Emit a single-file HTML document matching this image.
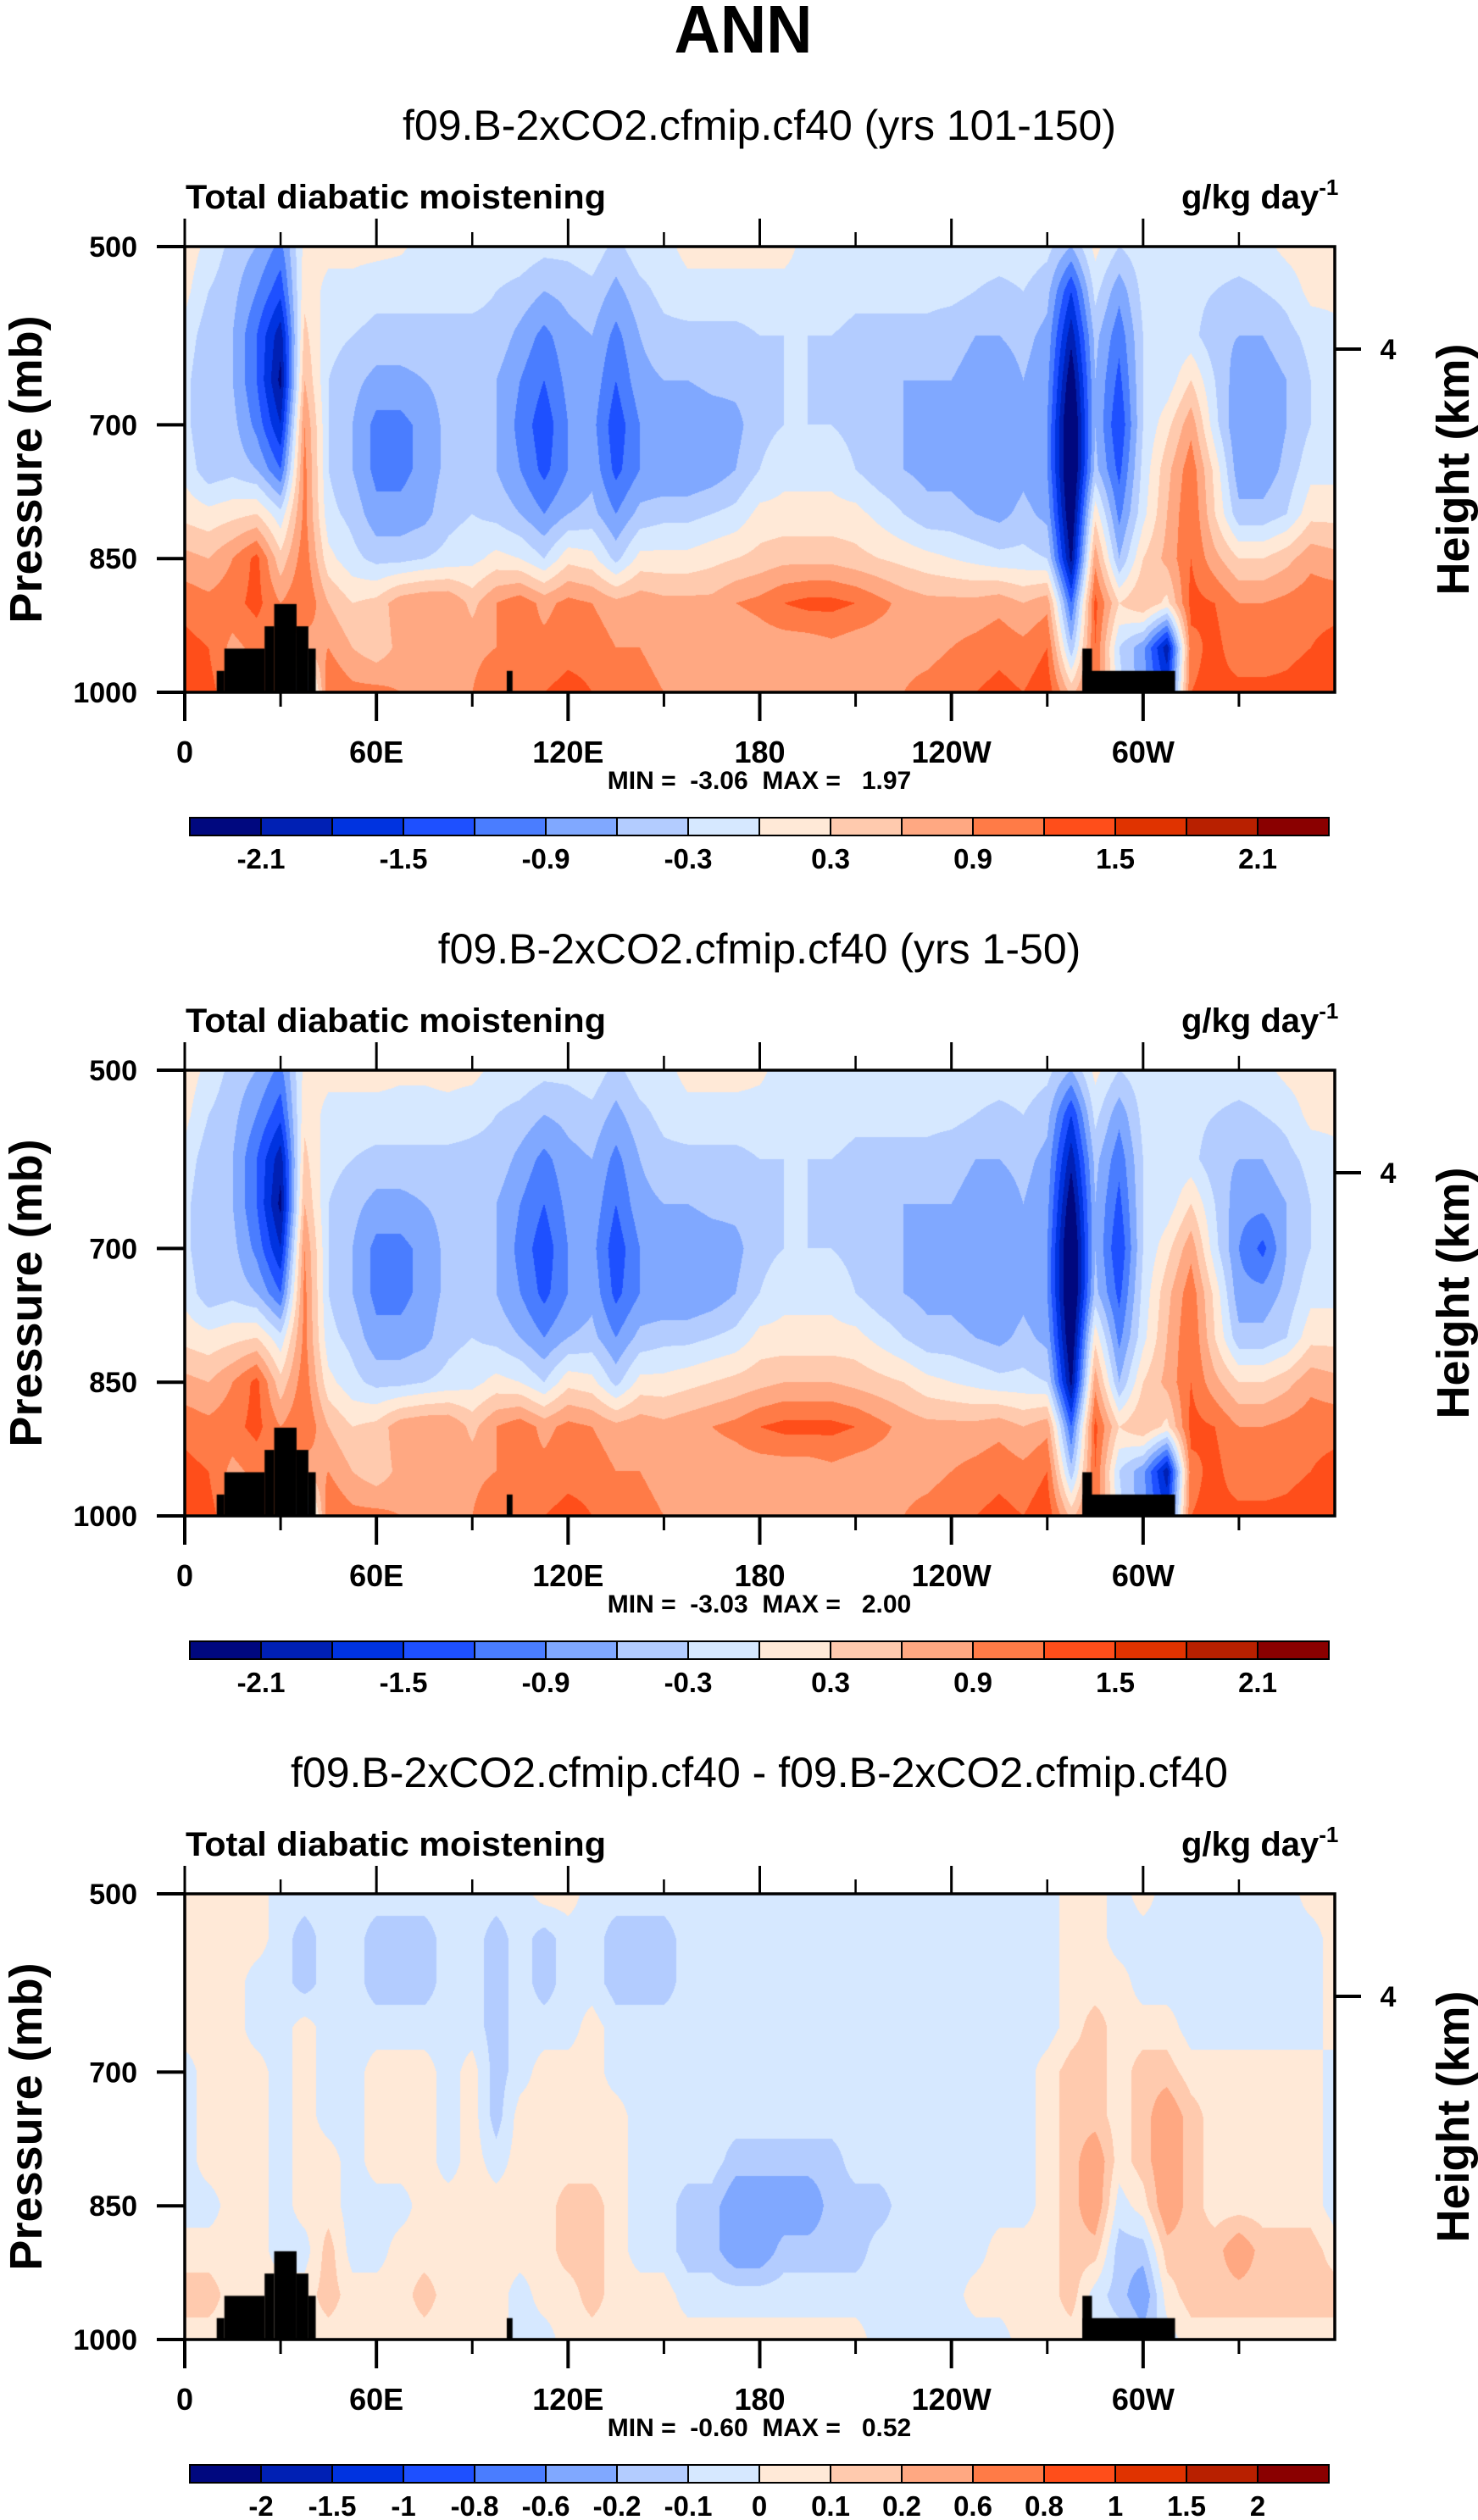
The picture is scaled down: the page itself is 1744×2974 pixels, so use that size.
<!DOCTYPE html>
<html><head><meta charset="utf-8"><title>ANN Total diabatic moistening</title>
<style>
html,body{margin:0;padding:0;background:#fff;}
#wrap{position:relative;width:1744px;height:2974px;overflow:hidden;}
canvas{position:absolute;left:218px;}
svg{position:absolute;left:0;top:0;}
text{font-family:"Liberation Sans",sans-serif;fill:#000;}
</style></head><body>
<div id="wrap">
<canvas id="c1" width="1357" height="526" style="top:291px"></canvas>
<canvas id="c2" width="1357" height="526" style="top:1263px"></canvas>
<canvas id="c3" width="1357" height="526" style="top:2235px"></canvas>
<svg id="svg" width="1744" height="2974" xmlns="http://www.w3.org/2000/svg">
<text x="877" y="62" font-size="80" font-weight="bold" text-anchor="middle" textLength="163" lengthAdjust="spacingAndGlyphs">ANN</text>
</svg>
</div>
<script>
// ---------- data ----------
const pressureLevels=[500,550,600,650,700,750,800,850,900,950,1000];
const lonStep=7.5;
const levelsA=[-2.1,-1.8,-1.5,-1.2,-0.9,-0.6,-0.3,0,0.3,0.6,0.9,1.2,1.5,1.8,2.1];
const labelsA=["-2.1","","-1.5","","-0.9","","-0.3","","0.3","","0.9","","1.5","","2.1"];
const levelsD=[-2,-1.5,-1,-0.8,-0.6,-0.2,-0.1,0,0.1,0.2,0.6,0.8,1,1.5,2];
const labelsD=["-2","-1.5","-1","-0.8","-0.6","-0.2","-0.1","0","0.1","0.2","0.6","0.8","1","1.5","2"];
const palette=["#00087f","#0020b4","#0033e0","#1e50ff","#4a7dff","#80a8ff","#b3ccff","#d6e8ff","#ffe9d7","#ffcaae","#ffa882","#ff7b47","#ff4e1a","#e03300","#b82000","#8a0000"];
const lonTicks=[0,60,120,180,240,300];
const lonTickLabels=["0","60E","120E","180","120W","60W"];
const lonMinorTicks=[30,90,150,210,270,330];
const pTicks=[500,700,850,1000];
const heightTicks=[{p:615,label:"4"}];
const topoLon0=[10,12.4,25,28,35,38.7,100.8,281,281];
const topoLon1=[12.4,25,28,35,38.7,41,102.6,284,310];
const topoP=[976,951,926,901,926,951,976,951,976];
const subtitles=["f09.B-2xCO2.cfmip.cf40 (yrs 101-150)","f09.B-2xCO2.cfmip.cf40 (yrs 1-50)","f09.B-2xCO2.cfmip.cf40 - f09.B-2xCO2.cfmip.cf40"];
const minVals=["-3.06","-3.03","-0.60"];
const maxVals=["1.97","2.00","0.52"];

const field1=[
[0.2,-0.1,-0.4,-0.6,-1.0,0.1,0.1,0.1,0.1,0.05,-0.1,-0.1,-0.1,-0.1,-0.1,-0.2,-0.2,-0.1,-0.4,-0.1,-0.1,0.1,0.1,0.1,0.1,0.1,-0.1,-0.1,-0.1,-0.1,-0.1,-0.1,-0.1,-0.1,-0.1,-0.1,-0.2,-0.6,0.1,-0.3,-0.1,-0.1,-0.1,-0.1,-0.1,-0.1,0.1,0.2],
[0.1,-0.3,-0.5,-0.9,-1.4,0.2,-0.1,-0.1,-0.2,-0.2,-0.2,-0.2,-0.2,-0.3,-0.4,-0.6,-0.5,-0.4,-0.7,-0.4,-0.2,-0.1,-0.1,-0.1,-0.1,-0.1,-0.1,-0.1,-0.2,-0.2,-0.2,-0.2,-0.2,-0.3,-0.4,-0.3,-0.5,-1.5,-0.2,-0.8,-0.2,-0.2,-0.2,-0.3,-0.4,-0.3,-0.2,0.1],
[-0.1,-0.5,-0.6,-1.2,-2.0,0.4,-0.2,-0.3,-0.4,-0.4,-0.4,-0.4,-0.4,-0.4,-0.7,-1.0,-0.7,-0.6,-1.0,-0.6,-0.4,-0.4,-0.4,-0.4,-0.3,-0.3,-0.3,-0.3,-0.4,-0.4,-0.4,-0.4,-0.5,-0.6,-0.6,-0.5,-0.7,-2.0,-0.5,-1.1,-0.3,-0.3,-0.2,-0.5,-0.6,-0.6,-0.4,-0.2],
[-0.2,-0.6,-0.6,-1.2,-2.2,0.6,-0.3,-0.5,-0.7,-0.7,-0.6,-0.5,-0.4,-0.6,-0.9,-1.2,-0.8,-0.7,-1.2,-0.7,-0.6,-0.6,-0.5,-0.5,-0.4,-0.3,-0.3,-0.4,-0.5,-0.5,-0.6,-0.6,-0.6,-0.7,-0.8,-0.6,-0.8,-2.4,-0.6,-1.3,-0.3,-0.2,0.3,-0.3,-0.8,-0.8,-0.6,-0.3],
[-0.2,-0.6,-0.5,-1.0,-1.8,0.9,-0.3,-0.6,-1.0,-1.0,-0.8,-0.5,-0.4,-0.6,-1.0,-1.4,-0.9,-0.8,-1.4,-0.9,-0.9,-0.9,-0.8,-0.7,-0.4,-0.3,-0.3,-0.3,-0.4,-0.6,-0.6,-0.7,-0.7,-0.8,-0.9,-0.7,-0.9,-2.7,-0.6,-1.5,-0.3,0.2,0.8,-0.2,-0.9,-0.9,-0.6,-0.3],
[-0.1,-0.5,-0.4,-0.6,-1.2,1.0,-0.3,-0.6,-1.0,-1.0,-0.8,-0.5,-0.4,-0.6,-0.9,-1.3,-0.9,-0.7,-1.3,-0.9,-0.9,-0.9,-0.8,-0.6,-0.3,-0.1,-0.1,-0.1,-0.3,-0.5,-0.6,-0.7,-0.7,-0.8,-0.9,-0.7,-0.9,-2.7,-0.5,-1.3,-0.2,0.5,1.1,0.2,-0.8,-0.8,-0.5,-0.1],
[0.2,0.1,0.2,0.3,-0.2,1.0,-0.2,-0.4,-0.8,-0.8,-0.7,-0.4,-0.3,-0.4,-0.6,-0.9,-0.6,-0.5,-0.9,-0.5,-0.4,-0.4,-0.3,-0.2,0.1,0.1,0.1,0.1,0.1,-0.1,-0.3,-0.5,-0.5,-0.6,-0.7,-0.5,-0.7,-2.5,0.2,-1.0,-0.1,0.6,1.2,0.3,-0.5,-0.5,-0.3,0.2],
[0.7,0.6,0.9,1.3,0.4,1.1,0.1,-0.2,-0.4,-0.4,-0.3,-0.2,-0.1,0.1,0.0,-0.3,0.2,0.1,-0.4,0.1,0.1,0.1,0.2,0.3,0.4,0.5,0.5,0.5,0.4,0.3,0.2,0.1,0.0,-0.1,-0.2,-0.2,-0.3,-2.2,0.8,-0.6,0.3,0.7,1.2,0.7,0.3,0.3,0.5,0.8],
[1.1,1.0,1.1,1.3,0.9,1.2,0.6,0.3,0.4,0.8,0.9,0.9,0.5,0.9,1.1,0.8,1.0,0.9,0.7,0.8,0.7,0.7,0.7,0.9,1.0,1.2,1.3,1.3,1.2,1.0,0.8,0.7,0.7,0.7,0.8,0.6,0.8,-1.2,1.3,0.3,0.6,0.2,1.3,1.2,0.9,0.9,1.0,1.1],
[1.3,1.2,0.8,1.0,1.0,0.7,0.9,0.6,0.4,0.7,0.8,0.8,0.8,0.9,1.0,1.0,1.1,1.1,0.9,0.9,0.8,0.7,0.6,0.6,0.7,0.7,0.7,0.8,0.7,0.7,0.8,0.8,0.9,1.0,1.1,1.0,1.2,-0.5,1.2,-0.3,-0.8,-2.0,1.1,1.3,1.0,1.0,1.1,1.2],
[1.4,1.3,1.0,1.0,1.0,-1.0,1.2,1.0,1.0,0.9,0.9,0.9,0.9,1.2,1.2,1.2,1.3,1.2,1.1,1.0,0.9,0.9,0.8,0.8,0.7,0.7,0.7,0.7,0.7,0.8,0.9,1.0,1.1,1.2,1.3,1.2,1.4,0.5,1.2,-0.2,-0.8,-1.5,1.2,1.3,1.3,1.3,1.3,1.4]
];
const field2=[
[0.2,-0.1,-0.4,-0.6,-1.0,0.1,0.1,0.1,0.1,0.05,0.05,0.1,0.1,-0.1,-0.1,-0.2,-0.2,-0.1,-0.4,-0.1,-0.1,0.1,0.1,0.1,0.05,-0.1,-0.1,-0.1,-0.1,-0.1,-0.1,-0.1,-0.1,-0.1,-0.1,-0.1,-0.2,-0.6,0.1,-0.3,-0.1,-0.1,-0.1,-0.1,-0.1,-0.1,0.1,0.2],
[0.1,-0.3,-0.5,-0.9,-1.4,0.2,-0.1,-0.1,-0.1,-0.1,-0.1,-0.1,-0.2,-0.3,-0.4,-0.6,-0.5,-0.4,-0.7,-0.4,-0.2,-0.1,-0.1,-0.1,-0.1,-0.1,-0.1,-0.1,-0.2,-0.2,-0.2,-0.2,-0.2,-0.3,-0.4,-0.3,-0.5,-1.5,-0.2,-0.8,-0.2,-0.2,-0.2,-0.3,-0.4,-0.3,-0.2,0.1],
[-0.1,-0.5,-0.6,-1.2,-2.0,0.4,-0.2,-0.3,-0.4,-0.4,-0.4,-0.4,-0.4,-0.4,-0.7,-1.0,-0.7,-0.6,-1.0,-0.6,-0.4,-0.4,-0.4,-0.4,-0.3,-0.3,-0.3,-0.3,-0.4,-0.4,-0.4,-0.4,-0.5,-0.6,-0.6,-0.5,-0.7,-2.0,-0.5,-1.1,-0.3,-0.3,-0.2,-0.5,-0.6,-0.6,-0.4,-0.2],
[-0.2,-0.6,-0.6,-1.2,-2.2,0.6,-0.3,-0.5,-0.7,-0.7,-0.6,-0.5,-0.4,-0.6,-0.9,-1.2,-0.8,-0.7,-1.2,-0.7,-0.6,-0.6,-0.5,-0.5,-0.4,-0.3,-0.3,-0.4,-0.5,-0.5,-0.6,-0.6,-0.6,-0.7,-0.8,-0.6,-0.8,-2.4,-0.6,-1.3,-0.3,-0.2,0.3,-0.3,-0.8,-0.8,-0.6,-0.3],
[-0.2,-0.6,-0.5,-1.0,-1.8,0.9,-0.3,-0.6,-1.0,-1.0,-0.8,-0.5,-0.4,-0.6,-1.0,-1.4,-0.9,-0.8,-1.4,-0.9,-0.9,-0.9,-0.8,-0.7,-0.4,-0.3,-0.3,-0.3,-0.4,-0.6,-0.6,-0.7,-0.7,-0.8,-0.9,-0.7,-0.9,-2.7,-0.6,-1.5,-0.3,0.2,0.8,-0.2,-0.9,-1.3,-0.6,-0.3],
[-0.1,-0.5,-0.4,-0.6,-1.2,1.0,-0.3,-0.6,-1.0,-1.0,-0.8,-0.5,-0.4,-0.6,-0.9,-1.3,-0.9,-0.7,-1.3,-0.9,-0.9,-0.9,-0.8,-0.6,-0.3,-0.1,-0.1,-0.1,-0.3,-0.5,-0.6,-0.7,-0.7,-0.8,-0.9,-0.7,-0.9,-2.7,-0.5,-1.3,-0.2,0.5,1.1,0.2,-0.8,-0.8,-0.5,-0.1],
[0.2,0.1,0.2,0.3,-0.2,1.0,-0.2,-0.4,-0.8,-0.8,-0.7,-0.4,-0.3,-0.4,-0.6,-0.9,-0.6,-0.5,-0.9,-0.5,-0.4,-0.4,-0.3,-0.2,0.1,0.1,0.1,0.1,0.1,-0.1,-0.3,-0.5,-0.5,-0.6,-0.7,-0.5,-0.7,-2.5,0.2,-1.0,-0.1,0.6,1.2,0.3,-0.5,-0.5,-0.3,0.2],
[0.7,0.6,0.9,1.3,0.4,1.1,0.1,-0.2,-0.4,-0.4,-0.3,-0.2,-0.1,0.1,0.0,-0.3,0.2,0.1,-0.4,0.1,0.1,0.2,0.3,0.4,0.5,0.6,0.6,0.6,0.5,0.4,0.3,0.1,0.0,-0.1,-0.2,-0.2,-0.3,-2.2,0.8,-0.6,0.3,0.7,1.2,0.7,0.3,0.3,0.5,0.8],
[1.1,1.0,1.1,1.3,0.9,1.2,0.6,0.3,0.4,0.8,0.9,0.9,0.5,0.9,1.1,0.8,1.0,0.9,0.7,0.8,0.7,0.8,0.9,1.0,1.2,1.3,1.3,1.3,1.2,1.0,0.8,0.7,0.7,0.7,0.8,0.6,0.8,-1.2,1.3,0.3,0.6,0.2,1.3,1.2,0.9,0.9,1.0,1.1],
[1.3,1.2,0.8,1.0,1.0,0.7,0.9,0.6,0.4,0.7,0.8,0.8,0.8,0.9,1.0,1.0,1.1,1.1,0.9,0.9,0.8,0.7,0.7,0.7,0.7,0.7,0.7,0.8,0.7,0.7,0.8,0.8,0.9,1.0,1.1,1.0,1.2,-0.5,1.2,-0.3,-0.8,-2.0,1.1,1.3,1.0,1.0,1.1,1.2],
[1.4,1.3,1.0,1.0,1.0,-1.0,1.2,1.0,1.0,0.9,0.9,0.9,0.9,1.2,1.2,1.2,1.3,1.2,1.1,1.0,0.9,0.9,0.8,0.8,0.7,0.7,0.7,0.7,0.7,0.8,0.9,1.0,1.1,1.2,1.3,1.2,1.4,0.5,1.2,-0.2,-0.8,-1.5,1.2,1.3,1.3,1.3,1.3,1.4]
];
const field3=[
[0.05,0.05,0.05,0.05,-0.05,-0.05,-0.05,-0.05,-0.05,-0.05,-0.05,-0.05,-0.05,-0.05,-0.05,0.05,0.05,-0.05,-0.05,-0.05,-0.05,-0.05,-0.05,-0.05,-0.05,-0.05,-0.05,-0.05,-0.05,-0.05,-0.05,-0.05,-0.05,-0.05,-0.05,-0.05,-0.05,0.05,0.05,-0.05,0.05,-0.05,-0.05,-0.05,-0.05,-0.05,-0.05,0.05],
[0.05,0.05,0.05,0.05,-0.05,-0.15,-0.05,-0.05,-0.15,-0.15,-0.15,-0.05,-0.05,-0.15,-0.05,-0.15,-0.05,-0.05,-0.15,-0.15,-0.15,-0.05,-0.05,-0.05,-0.05,-0.05,-0.05,-0.05,-0.05,-0.05,-0.05,-0.05,-0.05,-0.05,-0.05,-0.05,-0.05,0.05,0.05,-0.05,-0.05,-0.05,-0.05,-0.05,-0.05,-0.05,-0.05,-0.05],
[0.05,0.05,0.05,-0.05,-0.05,-0.15,-0.05,-0.05,-0.15,-0.15,-0.15,-0.05,-0.05,-0.15,-0.05,-0.15,-0.05,-0.05,-0.15,-0.15,-0.15,-0.05,-0.05,-0.05,-0.05,-0.05,-0.05,-0.05,-0.05,-0.05,-0.05,-0.05,-0.05,-0.05,-0.05,-0.05,-0.05,0.05,0.05,0.05,-0.05,-0.05,-0.05,-0.05,-0.05,-0.05,-0.05,-0.05],
[0.05,0.05,0.05,-0.05,-0.05,0.05,-0.05,-0.05,-0.05,-0.05,-0.05,-0.05,-0.05,-0.15,-0.05,-0.05,-0.05,0.05,-0.05,-0.05,-0.05,-0.05,-0.05,-0.05,-0.05,-0.05,-0.05,-0.05,-0.05,-0.05,-0.05,-0.05,-0.05,-0.05,-0.05,-0.05,-0.05,0.05,0.15,0.05,0.05,0.05,-0.05,-0.05,-0.05,-0.05,-0.05,-0.05],
[-0.05,0.05,0.05,0.05,-0.05,0.05,-0.05,-0.05,0.05,0.05,0.05,-0.05,0.05,-0.15,-0.05,0.05,0.05,0.05,-0.05,-0.05,-0.05,-0.05,-0.05,-0.05,-0.05,-0.05,-0.05,-0.05,-0.05,-0.05,-0.05,-0.05,-0.05,-0.05,-0.05,-0.05,0.05,0.15,0.15,0.05,0.15,0.15,0.05,0.05,0.05,0.05,0.05,0.05],
[-0.05,0.05,0.05,0.05,-0.05,0.05,-0.05,-0.05,0.05,0.05,0.05,-0.05,0.05,-0.15,0.05,0.05,0.05,0.05,0.05,-0.05,-0.05,-0.05,-0.05,-0.05,-0.05,-0.05,-0.05,-0.05,-0.05,-0.05,-0.05,-0.05,-0.05,-0.05,-0.05,-0.05,0.05,0.15,0.15,0.05,0.15,0.3,0.15,0.05,0.05,0.05,0.05,0.05],
[-0.05,0.05,0.05,0.05,-0.05,0.05,0.05,-0.05,0.05,0.05,0.05,-0.05,0.05,-0.05,0.05,0.05,0.05,0.05,0.05,-0.05,-0.05,-0.05,-0.05,-0.15,-0.15,-0.15,-0.15,-0.15,-0.05,-0.05,-0.05,-0.05,-0.05,-0.05,-0.05,-0.05,0.05,0.15,0.3,0.05,0.15,0.3,0.15,0.05,0.05,0.05,0.05,0.05],
[-0.05,-0.05,0.05,0.05,-0.05,0.05,0.05,-0.05,-0.05,-0.05,0.05,0.05,0.05,0.05,0.05,0.05,0.15,0.15,0.05,-0.05,-0.05,-0.15,-0.15,-0.3,-0.3,-0.3,-0.3,-0.15,-0.15,-0.15,-0.05,-0.05,-0.05,-0.05,-0.05,-0.05,0.05,0.15,0.3,-0.05,0.05,0.3,0.15,0.05,0.05,0.05,0.05,0.05],
[0.05,0.05,0.05,0.05,-0.05,-0.05,0.15,-0.05,-0.05,0.05,0.05,0.05,0.05,0.05,0.05,0.05,0.15,0.15,0.05,-0.05,-0.05,-0.15,-0.15,-0.3,-0.3,-0.15,-0.15,-0.15,-0.15,-0.05,-0.05,-0.05,-0.05,-0.05,0.05,0.05,0.05,0.15,0.15,-0.15,-0.15,0.15,0.15,0.15,0.3,0.15,0.15,0.15],
[0.15,0.15,0.05,0.05,0.05,0.05,0.15,0.05,0.05,0.05,0.15,0.05,0.05,0.05,-0.05,0.05,0.05,0.15,0.05,0.05,0.05,-0.05,-0.05,-0.05,-0.05,-0.05,-0.05,-0.05,-0.05,-0.05,-0.05,-0.05,-0.05,0.05,0.05,0.05,0.05,0.15,-0.05,-0.15,-0.3,0.05,0.15,0.15,0.15,0.15,0.15,0.15],
[0.05,0.05,0.05,0.05,0.05,0.05,0.05,0.05,0.05,0.05,0.05,0.05,0.05,0.05,-0.05,-0.05,0.05,0.05,0.05,0.05,0.05,0.05,0.05,0.05,0.05,0.05,0.05,0.05,0.05,-0.05,-0.05,-0.05,-0.05,-0.05,-0.05,0.05,0.05,0.05,-0.05,-0.05,-0.15,-0.05,0.05,0.05,0.05,0.05,0.05,0.05]
];

// ---------- layout ----------
const L=218,W=1357,H=526,TOPS=[291,1263,2235];
const CB_L=224,CB_W=1344;
const NS="http://www.w3.org/2000/svg";
const svg=document.getElementById('svg');
function xOf(lon){return L+lon/360*W;}
function yOf(top,p){return top+(p-500)/500*H;}
function el(tag,attrs,parent){const e=document.createElementNS(NS,tag);for(const k in attrs)e.setAttribute(k,attrs[k]);(parent||svg).appendChild(e);return e;}
function txt(s,attrs,parent){const e=el('text',attrs,parent);e.textContent=s;return e;}
function hex(c){return [parseInt(c.substr(1,2),16),parseInt(c.substr(3,2),16),parseInt(c.substr(5,2),16)];}
const rgb=palette.map(hex);

function drawField(canvasId,field,levels){
  const cv=document.getElementById(canvasId);const ctx=cv.getContext('2d');
  const img=ctx.createImageData(W,H);const d=img.data;const n=field[0].length;
  for(let y=0;y<H;y++){
    const p=500+(y+0.5)/H*500;let fj=(p-500)/50;let j0=Math.min(Math.floor(fj),pressureLevels.length-2);let tj=fj-j0;
    for(let x=0;x<W;x++){
      const lon=(x+0.5)/W*360;const fi=lon/lonStep;const i0=Math.floor(fi)%n;const i1=(i0+1)%n;const ti=fi-Math.floor(fi);
      const v=(field[j0][i0]*(1-ti)+field[j0][i1]*ti)*(1-tj)+(field[j0+1][i0]*(1-ti)+field[j0+1][i1]*ti)*tj+1e-6;
      let k=0;while(k<levels.length&&v>=levels[k])k++;
      const c=rgb[k];const o=(y*W+x)*4;d[o]=c[0];d[o+1]=c[1];d[o+2]=c[2];d[o+3]=255;
    }
  }
  ctx.putImageData(img,0,0);
  ctx.fillStyle='#000';
  for(let t=0;t<topoP.length;t++){
    const x0=topoLon0[t]/360*W,x1=topoLon1[t]/360*W,y0=(topoP[t]-500)/500*H;
    ctx.fillRect(x0,y0,x1-x0,H-y0);
  }
}

function drawPanel(k,field,levels,labels){
  const top=TOPS[k],bot=top+H;
  const g=el('g',{});
  
  
  const st=txt(subtitles[k],{x:896,y:top-126,'font-size':50,'text-anchor':'middle'},g);
  
  
  const lt=txt('Total diabatic moistening',{x:219,y:top-45,'font-size':40,'font-weight':'bold',textLength:496,lengthAdjust:'spacingAndGlyphs'},g);
  
  
  const ut=el('text',{x:1394,y:top-45,'font-size':40,'font-weight':'bold'},g);
  
  
  ut.innerHTML='g/kg day<tspan dy="-16" font-size="26">-1</tspan>';
  const fr=el('rect',{x:L,y:top,width:W,height:H,fill:'none',stroke:'#000','stroke-width':3.5},g);
  
  
  lonTicks.forEach((lon,i)=>{
    const x=xOf(lon);
    const t1=el('line',{x1:x,x2:x,y1:top,y2:top-33,stroke:'#000','stroke-width':3},g);
    
    
    const t2=el('line',{x1:x,x2:x,y1:bot,y2:bot+34,stroke:'#000','stroke-width':4},g);
    
    
    const lb=txt(lonTickLabels[i],{x:x,y:bot+83,'font-size':36,'font-weight':'bold','text-anchor':'middle'},g);
    
    
  });
  lonMinorTicks.forEach(lon=>{
    const x=xOf(lon);
    const t1=el('line',{x1:x,x2:x,y1:top,y2:top-17,stroke:'#000','stroke-width':2.5},g);
    
    
    const t2=el('line',{x1:x,x2:x,y1:bot,y2:bot+17,stroke:'#000','stroke-width':3},g);
    
    
  });
  pTicks.forEach(p=>{
    const y=yOf(top,p);
    const t=el('line',{x1:L-33,x2:L,y1:y,y2:y,stroke:'#000','stroke-width':4},g);
    
    
    const lb=txt(String(p),{x:162,y:y+12,'font-size':34,'font-weight':'bold','text-anchor':'end'},g);
    
    
  });
  heightTicks.forEach(h=>{
    const y=yOf(top,h.p);
    const t=el('line',{x1:L+W,x2:L+W+31,y1:y,y2:y,stroke:'#000','stroke-width':4},g);
    
    
    const lb=txt(h.label,{x:1638,y:y+12,'font-size':34,'font-weight':'bold','text-anchor':'middle'},g);
    
    
  });
  const yl=txt('Pressure (mb)',{x:0,y:0,'font-size':54,'font-weight':'bold','text-anchor':'middle',transform:`translate(49,${top+H/2}) rotate(-90)`},g);
  
  
  const yr=txt('Height (km)',{x:0,y:0,'font-size':54,'font-weight':'bold','text-anchor':'middle',transform:`translate(1733,${top+H/2}) rotate(-90)`},g);
  
  
  const mm=el('text',{x:896,y:bot+114,'font-size':30,'font-weight':'bold','text-anchor':'middle'},g);
  
  
  mm.textContent='MIN =  '+minVals[k]+'  MAX =   '+maxVals[k];
  mm.style.whiteSpace='pre';
  const cbTop=bot+148,cbH=21,seg=CB_W/palette.length;
  palette.forEach((c,i)=>{
    const r=el('rect',{x:CB_L+i*seg,y:cbTop,width:seg,height:cbH,fill:c,stroke:'#000','stroke-width':2},g);
    
    
  });
  levels.forEach((lv,i)=>{
    if(!labels[i])return;
    const lb=txt(labels[i],{x:CB_L+(i+1)*seg,y:bot+208,'font-size':33,'font-weight':'bold','text-anchor':'middle'},g);
    
    
  });
}
drawField('c1',field1,levelsA);
drawField('c2',field2,levelsA);
drawField('c3',field3,levelsD);
drawPanel(0,field1,levelsA,labelsA);
drawPanel(1,field2,levelsA,labelsA);
drawPanel(2,field3,levelsD,labelsD);
</script>
</body></html>
